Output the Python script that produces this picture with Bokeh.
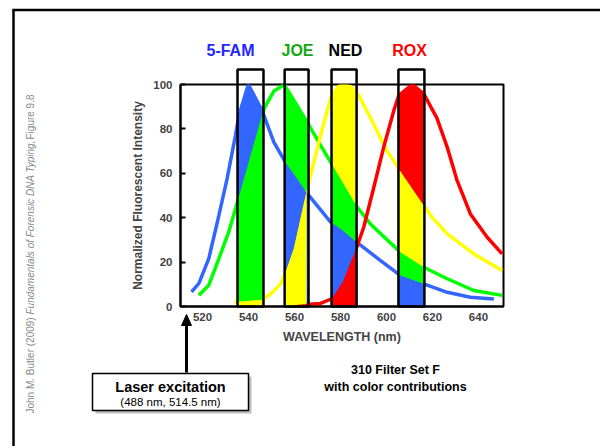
import numpy as np
from bokeh.plotting import figure
from bokeh.models import Range1d, FixedTicker
from bokeh.core.properties import value
from bokeh.embed import file_html
from bokeh.resources import INLINE

# ---------------- data ----------------
dye_names = ["5-FAM", "JOE", "NED", "ROX"]

fam_nm = [515.2, 518.4, 522.7, 527.1, 530.7, 534.3, 535.8, 539.9, 546.0, 551.0, 556.0, 560.5, 565.5, 575.7, 580.0, 587.0, 597.4, 606.0, 616.2, 626.4, 636.5, 646.7]
fam_int = [6.6, 10.4, 21.6, 41.0, 57.7, 77.0, 86.0, 100.0, 88.0, 74.0, 65.0, 58.5, 51.0, 38.0, 35.0, 29.0, 20.7, 14.0, 10.2, 6.4, 4.2, 3.4]

joe_nm = [518.4, 522.7, 527.1, 531.4, 536.0, 546.7, 551.0, 555.5, 565.5, 571.3, 576.0, 587.3, 593.0, 606.0, 616.2, 626.4, 638.0, 650.3]
joe_int = [5.1, 9.6, 21.6, 33.6, 50.0, 89.0, 97.0, 100.0, 83.0, 72.7, 64.5, 44.7, 37.2, 24.5, 17.7, 12.5, 7.2, 5.0]

ned_nm = [534.0, 546.0, 550.0, 553.9, 556.0, 559.7, 565.5, 571.3, 575.7, 579.0, 581.5, 584.5, 588.0, 594.5, 600.3, 606.0, 616.2, 620.0, 626.4, 638.0, 650.3]
ned_int = [2.0, 3.0, 6.0, 10.2, 15.0, 26.0, 53.0, 77.0, 93.7, 99.0, 100.0, 99.0, 95.0, 82.0, 70.0, 61.0, 45.5, 40.0, 32.7, 23.7, 16.2]

rox_nm = [559.7, 571.3, 576.4, 581.0, 586.5, 590.1, 594.5, 598.8, 603.2, 605.3, 611.2, 616.2, 621.9, 626.4, 630.7, 636.5, 643.8, 650.3]
rox_int = [0.6, 1.4, 3.6, 11.0, 25.0, 35.7, 53.7, 71.8, 88.3, 95.0, 100.0, 95.8, 85.0, 71.8, 56.8, 41.7, 31.2, 23.7]

filter_lo = [535.2, 555.7, 576.1, 605.2]
filter_hi = [546.5, 566.1, 587.0, 616.5]

x_ticks = [520, 540, 560, 580, 600, 620, 640]
y_ticks = [0, 20, 40, 60, 80, 100]

# ---------------- style ----------------
FONT = "Liberation Sans"
BLUE, GREEN, YELLOW, RED = "#3366FF", "#00FF00", "#FFFF00", "#FF0000"
LABEL_COLORS = ["#2626FF", "#12A812", "#000000", "#FF0000"]
LABEL_PX = [230, 297, 345, 409]

W, H = 600, 446
FL, FT, FR, FB = 180, 84, 503, 306   # frame edges in page pixels

p = figure(width=W, height=H, output_backend="svg", toolbar_location=None,
           x_range=Range1d(510.4, 650.9), y_range=Range1d(0, 100),
           min_border_left=FL, min_border_right=W - FR, min_border_top=FT, min_border_bottom=H - FB,
           background_fill_color="white", border_fill_color="white")
p.grid.visible = False
p.outline_line_color = "black"
p.outline_line_width = 2

# page-pixel helper ranges for decorations
p.extra_x_ranges = {"px": Range1d(FL, FR)}
p.extra_y_ranges = {"py": Range1d(FB, FT)}
PX = dict(x_range_name="px", y_range_name="py", level="overlay")

# axes
yax = p.yaxis[0]
yax.ticker = FixedTicker(ticks=y_ticks)
yax.major_tick_in = 5
yax.major_tick_out = 0
yax.minor_tick_line_color = None
yax.major_tick_line_width = 2
yax.axis_line_width = 2
yax.major_label_text_font = FONT
yax.major_label_text_font_style = "bold"
yax.major_label_text_font_size = "11.5px"
yax.major_label_standoff = 8
yax.axis_label = "Normalized Fluorescent Intensity"
yax.axis_label_text_font = FONT
yax.axis_label_text_font_style = "bold"
yax.axis_label_text_font_size = "12px"
yax.axis_label_standoff = 5

xax = p.xaxis[0]
xax.ticker = FixedTicker(ticks=x_ticks)
xax.major_tick_in = 0
xax.major_tick_out = 0
xax.major_tick_line_color = None
xax.minor_tick_line_color = None
xax.axis_line_width = 2
xax.major_label_text_font = FONT
xax.major_label_text_font_style = "bold"
xax.major_label_text_font_size = "11.5px"
xax.major_label_standoff = 6
xax.axis_label = "WAVELENGTH (nm)"
xax.axis_label_text_font = FONT
xax.axis_label_text_font_style = "bold"
xax.axis_label_text_font_size = "12.5px"
xax.axis_label_standoff = 6

dyes = [(fam_nm, fam_int, BLUE), (joe_nm, joe_int, GREEN), (ned_nm, ned_int, YELLOW), (rox_nm, rox_int, RED)]

# emission curves
for nm, iv, c in dyes:
    p.line(nm, iv, line_color=c, line_width=3.5)

# colour contributions inside each filter window
for lo, hi in zip(filter_lo, filter_hi):
    xs = np.linspace(lo, hi, 120)
    vals = np.array([np.interp(xs, nm, iv, left=0, right=0) for nm, iv, c in dyes])
    for k, (nm, iv, c) in enumerate(dyes):
        v = vals[k]
        lower = np.where(vals < v, vals, 0.0).max(axis=0)
        p.varea(x=xs, y1=lower, y2=v, fill_color=c)

# filter boxes (extend above the frame)
p.quad(left=filter_lo, right=filter_hi, bottom=0, top=106.8, fill_color=None,
       line_color="black", line_width=2.5, level="overlay")

# dye names above
p.text(x=LABEL_PX, y=[50] * 4, text=dye_names, text_color=LABEL_COLORS,
       text_align="center", text_baseline="middle", text_font=value(FONT),
       text_font_style="bold", text_font_size="16px", **PX)

# laser excitation arrow and box
p.segment(x0=[186], y0=[372], x1=[186], y1=[322], line_color="black", line_width=3, **PX)
p.patch(x=[181, 191, 186], y=[325, 325, 314], fill_color="black", line_color="black", **PX)
p.quad(left=[95], right=[251], top=[376], bottom=[413], fill_color="#bdbdbd",
       line_color=None, **PX)
p.quad(left=[92], right=[248], top=[373], bottom=[410], fill_color="white",
       line_color="black", line_width=1.5, **PX)
p.text(x=[170], y=[386], text=["Laser excitation"], text_align="center", text_baseline="middle",
       text_font=value(FONT), text_font_style="bold", text_font_size="14.5px", **PX)
p.text(x=[170], y=[401], text=["(488 nm, 514.5 nm)"], text_align="center", text_baseline="middle",
       text_font=value(FONT), text_font_size="11.5px", **PX)

# filter set caption
p.text(x=[395, 395], y=[369, 386], text=["310 Filter Set F", "with color contributions"],
       text_align="center", text_baseline="middle", text_font=value(FONT),
       text_font_style="bold", text_font_size="12.5px", **PX)

# credit text (vertical)
for txt, yp, st in [("John M. Butler (2009) ", 413, "normal"),
                    ("Fundamentals of Forensic DNA Typing,", 314, "italic"),
                    (" Figure 9.8", 139, "normal")]:
    p.text(x=[30], y=[yp], text=[txt], angle=np.pi / 2, text_align="left", text_baseline="middle",
           text_font=value(FONT), text_font_style=st, text_font_size="10px",
           text_color="#8a8a8a", **PX)

# page frame lines
p.line(x=[12, 600], y=[9.5, 9.5], line_color="black", line_width=2.5, **PX)
p.line(x=[13, 13], y=[9, 446], line_color="black", line_width=2.5, **PX)

open("out.html", "w").write(file_html(p, INLINE))
